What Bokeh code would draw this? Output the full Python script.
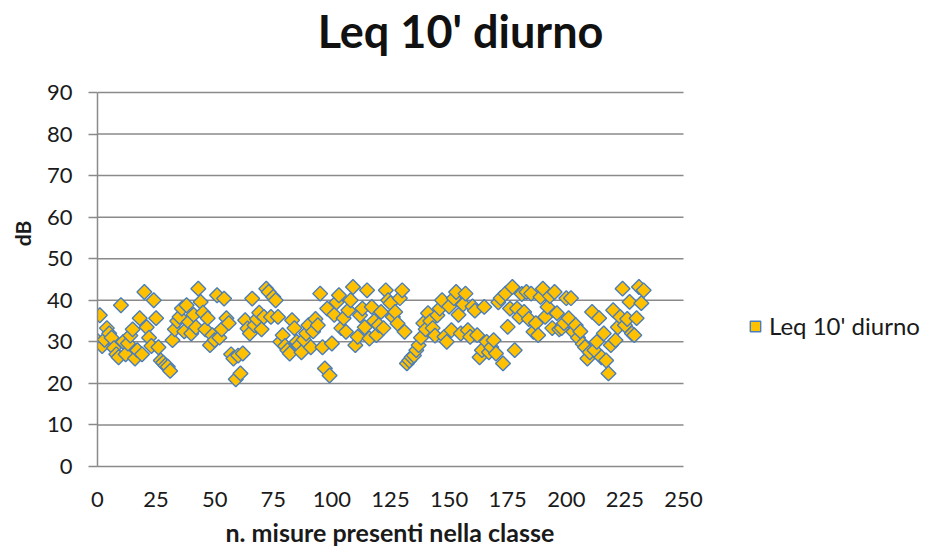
import math
from bokeh.plotting import figure
from bokeh.models import (ColumnDataSource, Legend, LegendItem, FixedTicker, Range1d, Title, Label)
from bokeh.embed import file_html
from bokeh.resources import INLINE

title_text = "Leq 10' diurno"
series_name = "Leq 10' diurno"
x_title = "n. misure presenti nella classe"
y_title = "dB"

leq_values = [
    30.2, 36.4, 29.0, 30.5, 33.3, 32.0, 31.0, 28.5, 27.0, 26.3,
    38.8, 30.0, 27.0, 29.6, 31.5, 33.0, 26.0, 28.0, 35.7, 27.0,
    42.0, 33.5, 31.0, 29.0, 40.0, 35.7, 28.7, 25.5, 25.0, 24.3,
    24.0, 23.0, 30.4, 33.0, 35.0, 36.0, 38.0, 32.5, 38.8, 34.8,
    32.0, 36.5, 33.5, 42.8, 39.6, 37.0, 33.0, 35.7, 29.2, 31.6,
    30.4, 41.2, 31.0, 33.0, 40.4, 35.7, 34.5, 27.0, 26.0, 21.0,
    26.7, 22.4, 27.2, 35.2, 33.2, 32.0, 40.4, 34.0, 35.5, 37.0,
    33.0, 36.0, 42.8, 42.0, 36.0, 40.8, 40.0, 36.0, 30.0, 31.6,
    29.0, 28.0, 27.2, 35.2, 33.3, 30.0, 29.2, 27.5, 30.5, 32.0,
    34.0, 28.7, 32.5, 35.5, 34.0, 41.6, 28.7, 23.6, 38.0, 21.9,
    29.6, 36.5, 39.5, 41.2, 33.3, 35.7, 32.4, 37.6, 40.0, 43.2,
    29.2, 31.2, 36.4, 38.0, 33.5, 42.4, 30.8, 38.4, 35.0, 31.6,
    34.0, 37.2, 33.3, 42.4, 40.0, 39.3, 36.0, 37.2, 34.4, 40.5,
    42.4, 32.4, 24.8, 25.5, 26.3, 26.7, 28.0, 29.2, 31.0, 34.5,
    33.0, 36.9, 35.0, 33.3, 31.5, 36.4, 38.0, 40.0, 31.2, 30.0,
    38.5, 32.8, 40.5, 42.0, 36.5, 32.0, 39.0, 41.6, 32.8, 31.2,
    38.5, 37.5, 31.6, 26.3, 28.0, 38.4, 30.0, 27.5, 28.7, 30.4,
    27.2, 39.5, 40.5, 24.8, 41.6, 33.6, 38.0, 43.2, 28.0, 38.0,
    36.0, 41.5, 37.2, 42.0, 35.5, 41.6, 32.4, 34.5, 31.6, 40.8,
    42.8, 36.0, 38.4, 41.0, 33.3, 42.0, 36.9, 33.0, 33.3, 34.5,
    40.5, 35.7, 40.5, 32.4, 34.0, 31.0, 32.5, 29.5, 28.7, 26.0,
    27.5, 37.2, 28.0, 30.0, 35.7, 26.3, 32.0, 25.5, 22.4, 29.2,
    37.6, 30.4, 33.5, 36.0, 42.8, 34.0, 35.5, 39.6, 32.0, 31.6,
    35.7, 43.2, 39.3, 42.4,
]
measure_index = list(range(len(leq_values)))

x_ticks = [0, 25, 50, 75, 100, 125, 150, 175, 200, 225, 250]
y_ticks = [0, 10, 20, 30, 40, 50, 60, 70, 80, 90]

FONT = "Lato"
GRID = "#8a8a8a"
TEXT = "#1a1a1a"

# ---- layout in pixels (canvas coordinates) ----
W = 921
LEFT = 97                # x = 0 position
X_END_PX = 683           # x = 250 position
Y0_PX, YTOP_PX = 466, 92 # y = 0 and y = 90 positions (frame spans canvas top .. y = 0)
BOTTOM = 85
frame_w = W - LEFT
px_per_x = (X_END_PX - LEFT) / (x_ticks[-1] - x_ticks[0])
px_per_y = (Y0_PX - YTOP_PX) / (y_ticks[-1] - y_ticks[0])
x_view = (x_ticks[0], x_ticks[0] + frame_w / px_per_x)
y_view = (y_ticks[0], y_ticks[-1] + YTOP_PX / px_per_y)

def x_at(px):
    return x_ticks[0] + (px - LEFT) / px_per_x

def y_at(py):
    return y_ticks[0] + (Y0_PX - py) / px_per_y

src = ColumnDataSource(data=dict(x=measure_index, y=leq_values))

p = figure(frame_width=frame_w, frame_height=Y0_PX, output_backend="svg", toolbar_location=None,
           x_range=Range1d(*x_view), y_range=Range1d(*y_view),
           min_border_left=LEFT, min_border_right=0, min_border_top=0, min_border_bottom=BOTTOM)
p.outline_line_color = None
p.background_fill_color = "white"
p.border_fill_color = "white"
p.xgrid.grid_line_color = None
p.ygrid.grid_line_color = None

# horizontal gridlines over the plot area only (0..250)
grid_levels = y_ticks[1:]
p.segment(x0=[x_ticks[0]] * len(grid_levels), x1=[x_ticks[-1]] * len(grid_levels),
          y0=grid_levels, y1=grid_levels, line_color=GRID, line_width=1.5)

r = p.scatter("x", "y", source=src, marker="square", size=10.5, angle=math.pi / 4,
              fill_color="#FFC000", line_color="#4A7EBB", line_width=1.4)

p.xaxis.ticker = FixedTicker(ticks=x_ticks)
p.xaxis.bounds = (x_ticks[0], x_ticks[-1])
p.yaxis.ticker = FixedTicker(ticks=y_ticks)
p.yaxis.bounds = (y_ticks[0], y_ticks[-1])

for ax in (p.xaxis[0], p.yaxis[0]):
    ax.axis_line_color = GRID
    ax.axis_line_width = 1.5
    ax.major_tick_line_color = GRID
    ax.major_tick_line_width = 1.5
    ax.minor_tick_line_color = None
    ax.major_label_text_font = FONT
    ax.major_label_text_font_size = "22px"
    ax.major_label_text_color = TEXT
    ax.axis_label_text_font = FONT
    ax.axis_label_text_font_style = "bold"
    ax.axis_label_text_color = TEXT

p.yaxis.major_tick_in = 0
p.yaxis.major_tick_out = 9
p.yaxis.major_label_standoff = 16
p.yaxis.axis_label = y_title
p.yaxis.axis_label_text_font_size = "21px"
p.yaxis.axis_label_standoff = 9

p.xaxis.major_tick_in = 0
p.xaxis.major_tick_out = 0
p.xaxis.major_label_standoff = 25

p.add_layout(Title(text=x_title, align="left", offset=128, standoff=11,
                   text_font=FONT, text_font_style="bold", text_font_size="25px",
                   text_color=TEXT), "below")

p.add_layout(Label(x=x_at(460), y=y_at(30), text=title_text,
                   text_align="center", text_baseline="alphabetic",
                   text_font=FONT, text_font_style="bold", text_font_size="45px",
                   text_color="#111111"))

legend = Legend(items=[LegendItem(label=series_name, renderers=[r])],
                location=(742 - LEFT, Y0_PX - 340),
                padding=0, margin=0, border_line_color=None, background_fill_alpha=0,
                label_text_font=FONT, label_text_font_size="24px", label_text_color=TEXT,
                glyph_width=26, glyph_height=26, label_height=26, label_standoff=1)
p.add_layout(legend)

open("out.html", "w").write(file_html(p, INLINE))
